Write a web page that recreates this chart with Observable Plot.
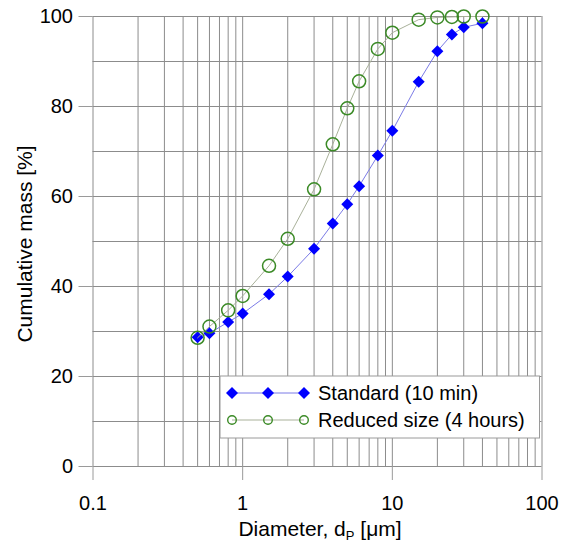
<!DOCTYPE html>
<html>
<head>
<meta charset="utf-8">
<script src="https://cdn.jsdelivr.net/npm/d3@7"></script>
<script src="https://cdn.jsdelivr.net/npm/@observablehq/plot@0.6"></script>
<style>
  body { margin: 0; background: #fff; }
  #chart svg { font-family: "Liberation Sans", Arial, sans-serif; display: block; }
</style>
</head>
<body>
<div id="chart"></div>
<script>
// Particle size distribution: cumulative mass vs. particle diameter
const diameters = [0.5, 0.6, 0.8, 1, 1.5, 2, 3, 4, 5, 6, 8, 10, 15, 20, 25, 30, 40];
const standard  = [28.7, 29.6, 32.1, 34.0, 38.3, 42.2, 48.4, 54.0, 58.3, 62.3, 69.1, 74.6, 85.5, 92.3, 96.0, 97.6, 98.5];
const reduced   = [28.6, 31.1, 34.7, 37.9, 44.6, 50.6, 61.6, 71.6, 79.6, 85.6, 92.8, 96.4, 99.3, 99.8, 99.9, 100, 100];
const seriesNames = ["Standard (10 min)", "Reduced size (4 hours)"];
const xTicks = [0.1, 1, 10, 100];
const yTicks = [0, 20, 40, 60, 80, 100];

const stdRows = diameters.map((d, i) => ({d, v: standard[i]}));
const redRows = diameters.map((d, i) => ({d, v: reduced[i]}));

// log grid: 1..9 in every decade, plus the closing 100
const xGrid = d3.range(-1, 2).flatMap(e => d3.range(1, 10).map(k => +(k * 10 ** e).toPrecision(3))).concat([100]);
const yGrid = d3.range(0, 101, 10);

const blue = "#0000ff", blueLine = "#7b7be6";
const green = "#3b8a26", greenLine = "#a9b19a";
const gridColor = "#8c8c8c";
const font = "'Liberation Sans', Arial, sans-serif";

const chart = Plot.plot({
  width: 573,
  height: 543,
  marginLeft: 92.5,
  marginRight: 31.5,
  marginTop: 16,
  marginBottom: 77,
  style: {fontFamily: font, fontSize: "20px", color: "#000", background: "#fff"},
  x: {type: "log", domain: [0.1, 100]},
  y: {domain: [0, 100]},
  marks: [
    Plot.gridX(xGrid, {stroke: gridColor, strokeOpacity: 1}),
    Plot.gridY(yGrid, {stroke: gridColor, strokeOpacity: 1}),
    Plot.axisX(xTicks, {tickSize: 14, tickPadding: 15, tickFormat: d => String(d), label: null, stroke: "#9a9a9a", fill: "#000", fontSize: 20}),
    Plot.axisY(yTicks, {tickSize: 14, tickPadding: 6, label: null, stroke: "#9a9a9a", fill: "#000", fontSize: 20}),
    Plot.line(stdRows, {x: "d", y: "v", stroke: blueLine, strokeWidth: 1}),
    Plot.dot(stdRows, {x: "d", y: "v", symbol: "diamond2", r: 5.4, fill: blue, stroke: "none"}),
    Plot.line(redRows, {x: "d", y: "v", stroke: greenLine, strokeWidth: 1}),
    Plot.dot(redRows, {x: "d", y: "v", r: 6.5, stroke: green, strokeWidth: 1.5, fill: "none"})
  ]
});

const svg = d3.select(chart);
const xs = chart.scale("x").range, ys = chart.scale("y").range;
const plotLeft = Math.min(...xs), plotRight = Math.max(...xs);
const plotTop = Math.min(...ys), plotBottom = Math.max(...ys);

// axis titles
const xt = svg.append("text")
  .attr("x", (plotLeft + plotRight) / 2 + 3)
  .attr("y", plotBottom + 70)
  .attr("text-anchor", "middle")
  .attr("font-family", font)
  .attr("font-size", 21)
  .attr("fill", "#000");
xt.append("tspan").text("Diameter, d");
xt.append("tspan").attr("font-size", 13).attr("dy", 4).text("P");
xt.append("tspan").attr("dy", -4).text(" [\u03bcm]");

svg.append("text")
  .attr("transform", `translate(32,${(plotTop + plotBottom) / 2 + 3}) rotate(-90)`)
  .attr("text-anchor", "middle")
  .attr("font-family", font)
  .attr("font-size", 21)
  .attr("fill", "#000")
  .text("Cumulative mass [%]");

// legend box in the lower right of the plot
const lg = svg.append("g").attr("font-family", font);
const boxX = 220, boxY = 376, boxW = plotRight - 2 - boxX, boxH = 62;
lg.append("rect")
  .attr("x", boxX).attr("y", boxY).attr("width", boxW).attr("height", boxH)
  .attr("fill", "#fff").attr("stroke", "#9a9a9a");
const rows = [
  {name: seriesNames[0], line: blueLine, y: boxY + 17, kind: "diamond"},
  {name: seriesNames[1], line: greenLine, y: boxY + 44, kind: "circle"}
];
const sx = [boxX + 12, boxX + 48, boxX + 84];
for (const r of rows) {
  lg.append("line").attr("x1", sx[0]).attr("x2", sx[2]).attr("y1", r.y).attr("y2", r.y)
    .attr("stroke", r.line).attr("stroke-width", 1);
  for (const x of sx) {
    if (r.kind === "diamond") {
      lg.append("path").attr("d", d3.symbol(d3.symbolDiamond2, Math.PI * 5.4 * 5.4)())
        .attr("transform", `translate(${x},${r.y})`).attr("fill", blue);
    } else {
      lg.append("circle").attr("cx", x).attr("cy", r.y).attr("r", 4.3)
        .attr("fill", "none").attr("stroke", green).attr("stroke-width", 1.4);
    }
  }
  lg.append("text").attr("x", boxX + 98).attr("y", r.y).attr("dy", "0.35em")
    .attr("text-anchor", "start")
    .attr("font-size", 20).attr("fill", "#000").text(r.name);
}

document.getElementById("chart").appendChild(chart);
</script>
</body>
</html>
